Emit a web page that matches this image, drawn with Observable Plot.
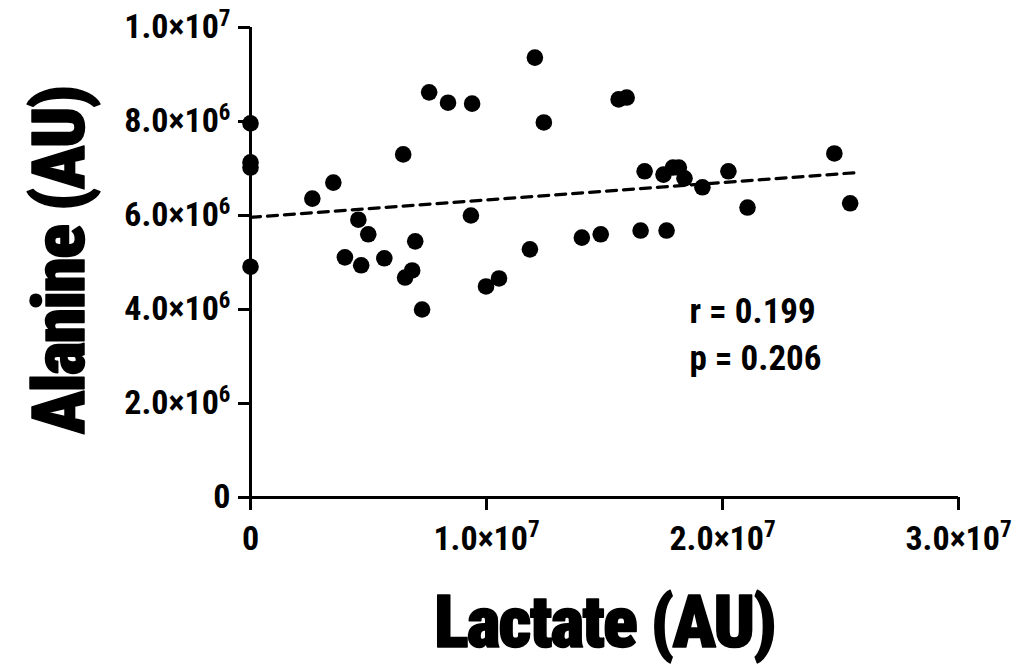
<!DOCTYPE html>
<html>
<head>
<meta charset="utf-8">
<script src="https://cdn.jsdelivr.net/npm/d3@7"></script>
<script src="https://cdn.jsdelivr.net/npm/@observablehq/plot@0.6"></script>
<style>
  html, body { margin: 0; padding: 0; background: #fff; }
  #chart svg { display: block; }
  #chart svg text { font-stretch: condensed; }
</style>
</head>
<body>
<div id="chart"></div>
<script>
// Lactate (x) and Alanine (y), arbitrary units
const lactate = [0, 0, 0, 0, 0.262e7, 0.351e7, 0.40e7, 0.457e7, 0.469e7, 0.499e7, 0.567e7, 0.647e7, 0.655e7, 0.685e7, 0.698e7, 0.727e7, 0.757e7, 0.837e7, 0.939e7, 0.934e7, 0.998e7, 1.053e7, 1.184e7, 1.205e7, 1.243e7, 1.404e7, 1.484e7, 1.56e7, 1.594e7, 1.653e7, 1.67e7, 1.75e7, 1.763e7, 1.79e7, 1.815e7, 1.839e7, 1.915e7, 2.025e7, 2.106e7, 2.474e7, 2.541e7];
const alanine = [7.96e6, 7.13e6, 7.02e6, 4.91e6, 6.36e6, 6.70e6, 5.11e6, 5.91e6, 4.94e6, 5.60e6, 5.09e6, 7.30e6, 4.68e6, 4.83e6, 5.45e6, 4.0e6, 8.62e6, 8.40e6, 8.38e6, 6.0e6, 4.49e6, 4.66e6, 5.28e6, 9.36e6, 7.98e6, 5.53e6, 5.60e6, 8.47e6, 8.51e6, 5.68e6, 6.94e6, 6.87e6, 5.68e6, 7.02e6, 7.02e6, 6.79e6, 6.60e6, 6.94e6, 6.17e6, 7.32e6, 6.26e6];
// linear fit endpoints (dashed line)
const fitX = [0, 2.56e7];
const fitY = [5.96e6, 6.91e6];
// ticks (the part after ^ is drawn as a superscript)
const xTicks = [0, 1e7, 2e7, 3e7];
const xTickLabels = ["0", "1.0×10^7", "2.0×10^7", "3.0×10^7"];
const yTicks = [0, 2e6, 4e6, 6e6, 8e6, 1e7];
const yTickLabels = ["0", "2.0×10^6", "4.0×10^6", "6.0×10^6", "8.0×10^6", "1.0×10^7"];
const stats = ["r = 0.199", "p = 0.206"];
const statsY = [3.95e6, 2.95e6];

const points = lactate.map((x, i) => ({x, y: alanine[i]}));
const fit = fitX.map((x, i) => ({x, y: fitY[i]}));

const FONT = "Roboto, sans-serif";

const chart = Plot.plot({
  width: 1026,
  height: 667,
  marginLeft: 250,
  marginRight: 68,
  marginTop: 27,
  marginBottom: 170,
  style: {fontFamily: FONT, fontWeight: "bold", fontSize: "34px", color: "#000", background: "#fff"},
  x: {domain: [0, 3e7]},
  y: {domain: [0, 1e7]},
  marks: [
    Plot.axisX({ticks: xTicks, tickFormat: (d) => xTickLabels[xTicks.indexOf(d)], tickSize: 13, tickPadding: 15, strokeWidth: 3, label: null, fontSize: 34}),
    Plot.axisY({ticks: yTicks, tickFormat: (d) => yTickLabels[yTicks.indexOf(d)], tickSize: 12, tickPadding: 8, strokeWidth: 3, label: null, fontSize: 34}),
    Plot.ruleY([0], {strokeWidth: 3}),
    Plot.ruleX([0], {strokeWidth: 3}),
    Plot.line(fit, {x: "x", y: "y", stroke: "#000", strokeWidth: 3.2, strokeDasharray: "10,7"}),
    Plot.dot(points, {x: "x", y: "y", r: 8.3, fill: "#000", stroke: "none"}),
    Plot.text(stats, {x: 1.86e7, y: (d, i) => statsY[i], text: (d) => d, textAnchor: "start", fontSize: 35, fontWeight: "bold", fill: "#000"}),
    Plot.text(["Lactate (AU)"], {frameAnchor: "bottom", dy: 149, text: (d) => d, fontSize: 72, fontWeight: 900, fill: "#000", stroke: "#000", strokeWidth: 1.5, className: "axis-title"}),
    Plot.text(["Alanine (AU)"], {frameAnchor: "left", textAnchor: "middle", dx: -190, dy: -2, rotate: -90, text: (d) => d, fontSize: 72, fontWeight: 900, fill: "#000", stroke: "#000", strokeWidth: 1.5, className: "axis-title"})
  ]
});

// turn "a^b" tick labels into base + superscript
d3.select(chart).selectAll("text").each(function () {
  const t = this.textContent;
  if (!t.includes("^")) return;
  const [base, sup] = t.split("^");
  const sel = d3.select(this);
  sel.text(null);
  sel.append("tspan").text(base);
  sel.append("tspan").attr("font-size", "0.68em").attr("dy", "-0.55em").text(sup);
});
d3.select(chart).selectAll(".axis-title text").attr("letter-spacing", "-1.8px");

document.getElementById("chart").appendChild(chart);
</script>
</body>
</html>
